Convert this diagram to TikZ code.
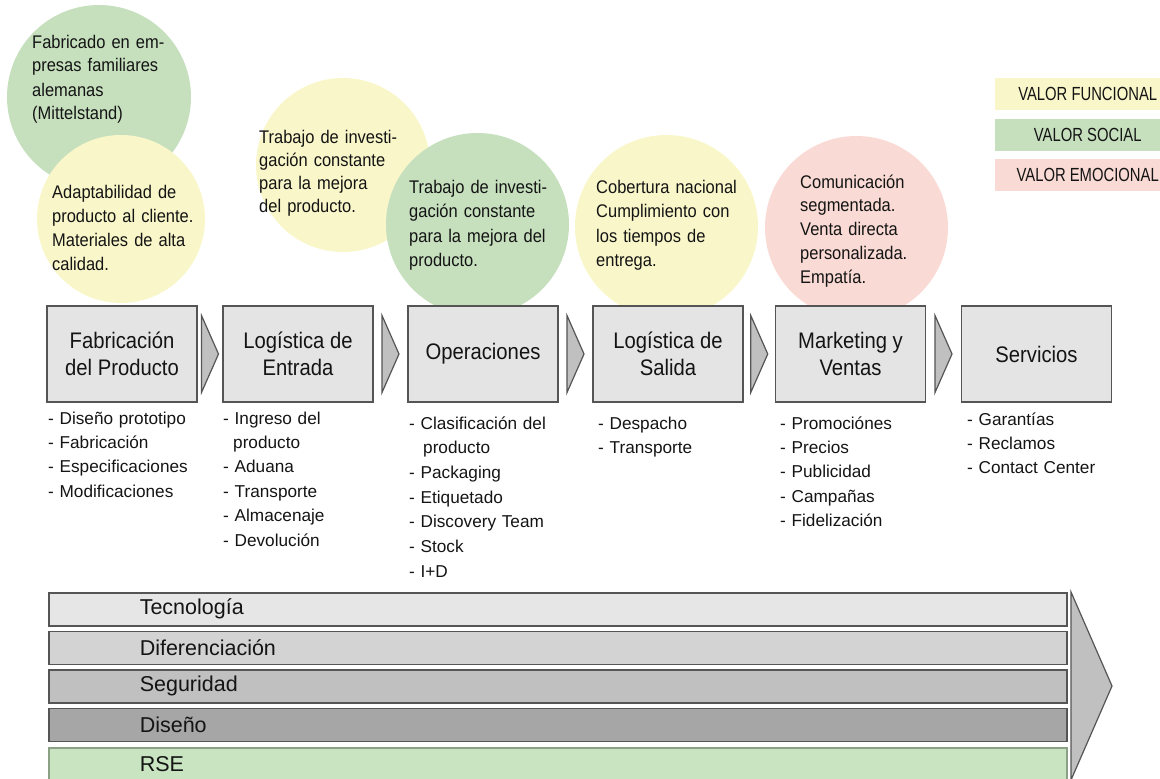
\documentclass[tikz,border=0pt]{standalone}
\usepackage{fontspec}
\setmainfont{Liberation Sans}
\newfontfamily\legfont{Liberation Sans}[FakeStretch=0.78]
\newfontfamily\boxfont{Liberation Sans}[FakeStretch=0.9]
\newfontfamily\circfont{Liberation Sans}[FakeStretch=0.9]
\usetikzlibrary{calc}
\definecolor{cgreen}{RGB}{198,224,190}
\definecolor{cyellow}{RGB}{249,247,201}
\definecolor{cpink}{RGB}{249,218,212}
\definecolor{bordc}{RGB}{85,85,85}
\definecolor{boxc}{RGB}{228,228,228}
\definecolor{txtc}{RGB}{20,20,20}
\definecolor{barA}{RGB}{230,230,230}
\definecolor{barB}{RGB}{211,211,211}
\definecolor{barC}{RGB}{192,192,192}
\definecolor{barD}{RGB}{166,166,166}
\definecolor{barE}{RGB}{200,228,192}
\definecolor{chevc}{RGB}{192,192,192}
\begin{document}
\begin{tikzpicture}[x=1pt,y=-1pt,
  circ/.style={circle, inner sep=0pt, draw=none},
  ctext/.style={anchor=base west, inner sep=0pt, text width=200pt, align=left,
    font=\circfont\fontsize{18.3}{24}\selectfont, text=txtc},
  stepbox/.style={draw=bordc, line width=1.5pt, fill=boxc, minimum width=150pt,
    minimum height=96pt, inner sep=0pt, align=center, text=txtc,
    font=\boxfont\fontsize{22.5}{27.5}\selectfont},
  ltext/.style={anchor=base west, inner sep=0pt, text width=200pt, align=left,
    font=\fontsize{17.2}{24.4}\selectfont, text=txtc},
  chev/.style={draw=bordc, line width=1.2pt, fill=chevc, line join=miter},
  barbox/.style={draw=bordc, line width=1.5pt, anchor=north west, minimum width=1018pt,
    minimum height=33pt, inner ysep=0pt, inner xsep=91pt, text width=836pt, align=left,
    font=\fontsize{21.5}{24}\selectfont, text=txtc},
  legbox/.style={anchor=north west, minimum width=175pt, minimum height=32pt, inner sep=0pt,
    font=\legfont\fontsize{19}{22}\selectfont, text=txtc}
]
\useasboundingbox (0,0) rectangle (1160,779);
\clip (0,0) rectangle (1160,779);

% circles
\node[circ, fill=cgreen, minimum size=184pt] (c1) at (99,97) {};
\node[circ, fill=cyellow, minimum size=168pt] (c2) at (121,219) {};
\node[circ, fill=cyellow, minimum size=174pt] (c3) at (343,165) {};
\node[circ, fill=cgreen, minimum size=183pt] (c4) at (477.5,224.5) {};
\node[circ, fill=cyellow, minimum size=183pt] (c5) at (666.5,226.5) {};
\node[circ, fill=cpink, minimum size=183pt] (c6) at (856.5,227.5) {};

\node[ctext] (t1) at (32,48) {Fabricado en em-\\presas familiares\\alemanas\\(Mittelstand)};
\node[ctext] (t2) at (52,198) {Adaptabilidad de\\producto al cliente.\\Materiales de alta\\calidad.};
\node[ctext, font=\circfont\fontsize{18.3}{23}\selectfont] (t3) at (259,143) {Trabajo de investi-\\gación constante\\para la mejora\\del producto.};
\node[ctext, font=\circfont\fontsize{18.3}{24.6}\selectfont] (t4) at (409,193) {Trabajo de investi-\\gación constante\\para la mejora del\\producto.};
\node[ctext, font=\circfont\fontsize{18.3}{24.6}\selectfont] (t5) at (596,193) {Cobertura nacional\\Cumplimiento con\\los tiempos de\\entrega.};
\node[ctext, font=\circfont\fontsize{18.3}{23.8}\selectfont] (t6) at (800,188) {Comunicación\\segmentada.\\Venta directa\\personalizada.\\Empatía.};

% legend
\node[legbox, fill=cyellow] (lg1) at (995,78) {\hspace*{10pt}VALOR FUNCIONAL};
\node[legbox, fill=cgreen] (lg2) at (995,119) {\hspace*{10pt}VALOR SOCIAL};
\node[legbox, fill=cpink] (lg3) at (995,159) {\hspace*{10pt}VALOR EMOCIONAL};

% boxes
\node[stepbox] (b1) at (122,354) {Fabricación\\del Producto};
\node[stepbox] (b2) at (298,354) {Logística de\\Entrada};
\node[stepbox] (b3) at (483,354) {Operaciones};
\node[stepbox] (b4) at (668,354) {Logística de\\Salida};
\node[stepbox] (b5) at (850.5,354) {Marketing y\\Ventas};
\node[stepbox] (b6) at (1036.5,354) {Servicios};

% chevrons between boxes
\foreach \a/\b/\n in {b1/b2/k1,b2/b3/k2,b3/b4/k3,b4/b5/k4,b5/b6/k5}{
  \coordinate (\n) at ($(\a.east)!0.5!(\b.west)$);
  \draw[chev] ($(\n)+(-8.5,-38.5)$) -- ($(\n)+(8.5,0)$) -- ($(\n)+(-8.5,38.5)$) -- cycle;
}

% lists
\node[ltext] (l1) at (48,424) {- Diseño prototipo\\- Fabricación\\- Especificaciones\\- Modificaciones};
\node[ltext] (l2) at (223,424) {- Ingreso del\\\hspace*{10pt}producto\\- Aduana\\- Transporte\\- Almacenaje\\- Devolución};
\node[ltext, font=\fontsize{17.2}{24.7}\selectfont] (l3) at (409,429) {- Clasificación del\\\hspace*{14pt}producto\\- Packaging\\- Etiquetado\\- Discovery Team\\- Stock\\- I+D};
\node[ltext] (l4) at (598,429) {- Despacho\\- Transporte};
\node[ltext] (l5) at (780,429) {- Promociónes\\- Precios\\- Publicidad\\- Campañas\\- Fidelización};
\node[ltext] (l6) at (967,425) {- Garantías\\- Reclamos\\- Contact Center};

% bars
\node[barbox, fill=barA] (r1) at (48,592) {Tecnología};
\node[barbox, fill=barB] (r2) at (48,630.5) {Diferenciación};
\node[barbox, fill=barC] (r3) at (48,669) {Seguridad};
\node[barbox, fill=barD] (r4) at (48,707.5) {Diseño};
\node[barbox, fill=barE, draw=barE!70!black] (r5) at (48,747) {RSE};

% big arrow
\coordinate (g1) at (1071,592);
\coordinate (g2) at (1112,686);
\coordinate (g3) at (1071,780);
\draw[chev] (g1) -- (g2) -- (g3) -- cycle;
\end{tikzpicture}
\end{document}
